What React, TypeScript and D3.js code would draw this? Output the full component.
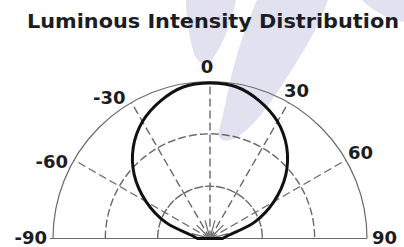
import React from "react";
import * as d3 from "d3";

const title = "Luminous Intensity Distribution";
const angles = [-90, -80, -70, -60, -50, -40, -30, -20, -10, 0, 10, 20, 30, 40, 50, 60, 70, 80, 90];
const intensity = [0.08, 0.12, 0.3, 0.47, 0.63, 0.76, 0.86, 0.93, 0.98, 0.99, 0.98, 0.93, 0.86, 0.76, 0.63, 0.47, 0.3, 0.12, 0.08];
const spokeAngles = [-60, -30, 0, 30, 60];
const minorSpokeAngles = [-75, -45, -15, 15, 45, 75];
const ringLevels = [1 / 3, 2 / 3];
const tickLabels = [-90, -60, -30, 0, 30, 60, 90];

const W = 404;
const H = 247;
const cx = 210;
const cy = 238.5;
const R = 157;

// label placement offsets relative to the spoke end (layout only)
const labelOffset: Record<string, [number, number, string]> = {
  "-90": [-6, -1.5, "end"],
  "-60": [-6, 1, "end"],
  "-30": [-6, -5.5, "end"],
  "0": [-3, -15.5, "middle"],
  "30": [-4.5, -12.5, "start"],
  "60": [2, -7.5, "start"],
  "90": [5, -1.5, "start"],
};

const rad = d3.scaleLinear().domain([-180, 180]).range([-Math.PI, Math.PI]);
const rScale = d3.scaleLinear().domain([0, 1]).range([0, R]);

const polar = (deg: number, r: number): [number, number] => {
  const a = rad(deg);
  return [cx + r * Math.sin(a), cy - r * Math.cos(a)];
};

export default function App() {
  const halfArc = (r: number) =>
    d3.arc()({ innerRadius: r, outerRadius: r, startAngle: -Math.PI / 2, endAngle: Math.PI / 2 }) as string;

  const pts = angles.map((a, i) => ({ a, v: intensity[i] }));
  const curve = d3
    .lineRadial<{ a: number; v: number }>()
    .angle((d) => rad(d.a))
    .radius((d) => rScale(d.v))
    .curve(d3.curveCatmullRom.alpha(0.5))(pts) as string;

  const font = "'DejaVu Sans', Verdana, sans-serif";
  const textColor = "#1c1c24";
  const grid = "#6a6a6a";

  return (
    <svg width={W} height={H} style={{ position: "absolute", left: 0, top: 0, background: "#fff" }}>
      {/* watermark */}
      <g fill="#e2e1ef">
        <path d="M257,0 L328,0 C318,30 298,60 280,88 C266,110 252,128 236,138 C228,142 220,142 218,134 C222,120 226,100 230,82 C236,55 246,25 257,0 Z" />
        <path d="M186,0 L236,0 C232,22 224,42 212,60 C206,66 198,64 194,54 C190,40 186,20 186,0 Z" />
        <path d="M362,0 L404,0 L404,22 C392,20 376,14 362,0 Z" />
      </g>
      <text x={27} y={27.5} fontFamily={font} fontWeight="bold" fontSize={19} fill={textColor} textLength={372} lengthAdjust="spacingAndGlyphs">
        {title}
      </text>
      <g transform={`translate(${cx},${cy})`}>
        <path d={halfArc(R)} fill="none" stroke={grid} strokeWidth={1.2} />
        {ringLevels.map((l) => (
          <path key={l} d={halfArc(rScale(l))} fill="none" stroke={grid} strokeWidth={1.4} strokeDasharray="7,4" />
        ))}
      </g>
      <line x1={cx - R - 3} y1={cy} x2={cx + R} y2={cy} stroke={grid} strokeWidth={1.2} />
      {spokeAngles.map((a) => {
        const [x, y] = polar(a, R);
        return <line key={a} x1={cx} y1={cy} x2={x} y2={y} stroke={grid} strokeWidth={1.4} strokeDasharray="8,4" />;
      })}
      {minorSpokeAngles.map((a) => {
        const [x1, y1] = polar(a, rScale(0.02));
        const [x2, y2] = polar(a, rScale(0.12));
        return <line key={a} x1={x1} y1={y1} x2={x2} y2={y2} stroke={grid} strokeWidth={1.2} />;
      })}
      <path d={curve + "Z"} transform={`translate(${cx},${cy})`} fill="none" stroke="#111" strokeWidth={3} strokeLinejoin="round" />
      {tickLabels.map((t) => {
        const [x, y] = polar(t, R);
        const [dx, dy, anchor] = labelOffset[String(t)];
        return (
          <text key={t} x={x + dx} y={y + dy} textAnchor={anchor as any} dominantBaseline="central" fontFamily={font} fontWeight="bold" fontSize={18} fill={textColor}>
            {t}
          </text>
        );
      })}
    </svg>
  );
}
